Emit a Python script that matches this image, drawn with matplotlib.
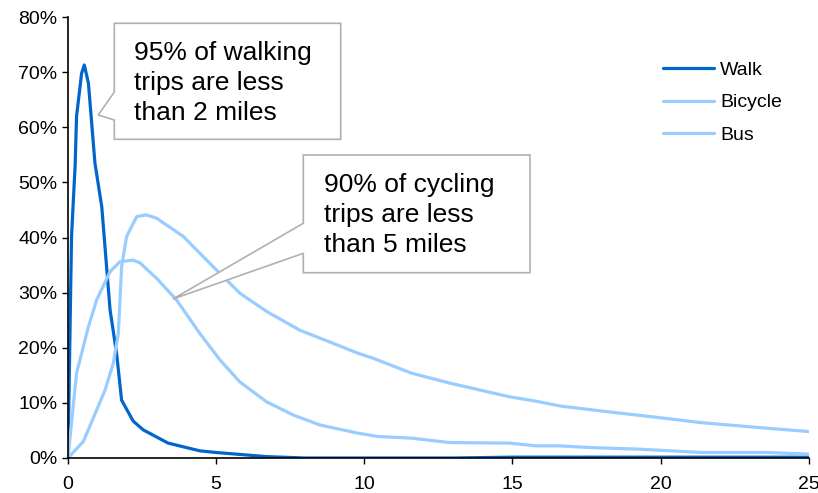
import matplotlib
matplotlib.use("Agg")
from matplotlib import pyplot as plt
from matplotlib.patches import Polygon
from matplotlib.ticker import PercentFormatter

plt.rcParams['font.family'] = ['Liberation Sans', 'DejaVu Sans']

# trip length (miles) vs share of trips (%)
walk_x = [0, 0.12, 0.24, 0.29, 0.46, 0.55, 0.69, 0.91, 1.14, 1.42, 1.64, 1.81, 2.2, 2.54, 3.38,
          4.45, 5.0, 6.7, 8.0, 10, 13, 15, 20, 25]
walk_y = [0, 40.2, 52.9, 62.0, 69.8, 71.3, 68.0, 53.5, 45.6, 26.9, 19.0, 10.5, 6.7, 5.1, 2.7,
          1.3, 1.0, 0.25, 0.0, 0.0, 0.0, 0.15, 0.15, 0.15]

bike_x = [0, 0.29, 0.69, 0.97, 1.42, 1.75, 2.2, 2.43, 2.99, 3.66, 4.45, 5.13, 5.8, 6.7, 7.6,
          8.5, 9.79, 10.47, 11.59, 12.88, 14.9, 15.8, 16.6, 17.6, 19.3, 21.4, 23.6, 25]
bike_y = [0, 15.4, 23.8, 28.7, 33.8, 35.6, 35.9, 35.4, 32.6, 28.7, 22.6, 17.8, 13.8, 10.2, 7.8,
          6.0, 4.5, 3.9, 3.6, 2.8, 2.7, 2.2, 2.2, 1.9, 1.6, 1.0, 1.0, 0.7]

bus_x = [0, 0.52, 1.25, 1.53, 1.7, 1.81, 1.98, 2.32, 2.65, 2.99, 3.89, 4.9, 5.8, 6.7, 7.82,
         8.95, 9.79, 10.3, 11.59, 12.88, 14.9, 15.7, 16.65, 18.2, 20.0, 21.4, 23.6, 25]
bus_y = [0, 3.0, 12.3, 17.2, 22.6, 34.7, 40.2, 43.8, 44.1, 43.5, 40.2, 34.7, 29.9, 26.6, 23.2,
         20.8, 19.0, 18.1, 15.4, 13.6, 11.1, 10.4, 9.4, 8.4, 7.3, 6.4, 5.4, 4.8]

x_ticks = [0, 5, 10, 15, 20, 25]
y_ticks = [0, 10, 20, 30, 40, 50, 60, 70, 80]

dark = '#0066CC'
light = '#99CCFF'

fig = plt.figure(figsize=(8.18, 4.93), dpi=100)
ax = fig.add_axes([0.0831, 0.071, 0.9055, 0.8945])

ax.plot(walk_x, walk_y, color=dark, lw=2.3, label='Walk', solid_capstyle='round')
ax.plot(bike_x, bike_y, color=light, lw=2.3, label='Bicycle', solid_capstyle='round')
ax.plot(bus_x, bus_y, color=light, lw=2.3, label='Bus', solid_capstyle='round')

ax.set_xlim(0, 25)
ax.set_ylim(0, 80)
ax.set_xticks(x_ticks)
ax.set_yticks(y_ticks)
ax.yaxis.set_major_formatter(PercentFormatter(decimals=0))
ax.tick_params(labelsize=14, direction='out', length=4, width=1, colors='black')
ax.tick_params(axis='x', pad=9)
for s in ['top', 'right']:
    ax.spines[s].set_visible(False)
for s in ['left', 'bottom']:
    ax.spines[s].set_linewidth(1.2)

leg = ax.legend(loc='upper left', bbox_to_anchor=(0.803, 0.9), frameon=False,
                fontsize=14, borderpad=0, borderaxespad=0, handlelength=2.66,
                handletextpad=0.3, labelspacing=0.78)

# callout boxes drawn in pixel space of the figure
def px(x, y):
    return (x / 818.0, 1 - y / 493.0)

box1 = [px(114.3, 23.3), px(340.7, 23.3), px(340.7, 139.3), px(114.3, 139.3),
        px(114.3, 120), px(98.3, 115), px(114.3, 92), px(114.3, 23.3)]
box2 = [px(303.3, 155), px(530, 155), px(530, 272.7), px(303.3, 272.7),
        px(303.3, 253.3), px(173, 299), px(303.3, 223.3), px(303.3, 155)]
for pts in (box1, box2):
    fig.patches.append(Polygon(pts, closed=True, transform=fig.transFigure,
                               facecolor='white', edgecolor='#B0B0B0', lw=1.2, zorder=5))

fig.text(*px(134, 83), '95% of walking\ntrips are less\nthan 2 miles', fontsize=19,
         va='center', ha='left', linespacing=1.33, zorder=6)
fig.text(*px(324, 215), '90% of cycling\ntrips are less\nthan 5 miles', fontsize=19,
         va='center', ha='left', linespacing=1.33, zorder=6)

fig.savefig('out.png', dpi=100)
